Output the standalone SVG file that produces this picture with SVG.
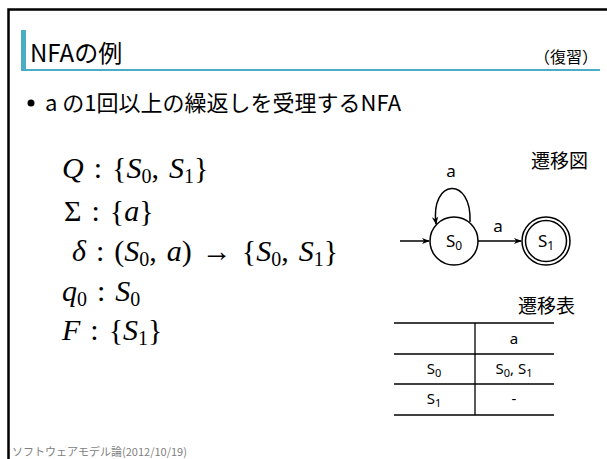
<svg xmlns="http://www.w3.org/2000/svg" width="607" height="459" viewBox="0 0 607 459">
<style>
.jp{font-family:"Noto Sans CJK JP","Noto Sans",sans-serif;fill:#000}
.m{font-family:"Liberation Serif","DejaVu Serif",serif;font-size:30px;fill:#000;word-spacing:2.5px}
.i{font-style:italic}
.sub{font-size:20px}
.n{font-family:"Noto Sans","Noto Sans CJK JP",sans-serif;font-size:17px;fill:#000}
.ns{font-size:12px}
.t{font-family:"Noto Sans","Noto Sans CJK JP",sans-serif;font-size:15px;fill:#000}
.ts{font-size:11px}
.edge{fill:none;stroke:#000;stroke-width:1.5}
.node{fill:#fff;stroke:#000;stroke-width:1.5}
.grid{stroke:#000;stroke-width:1.3}
</style>
<defs>
<marker id="arr" viewBox="0 0 10 10" refX="9" refY="5" markerWidth="8" markerHeight="8" markerUnits="userSpaceOnUse" orient="auto">
<path d="M0,1 L10,5 L0,9 L3,5 z" fill="#000"/>
</marker>
</defs>
<rect width="607" height="459" fill="#fff"/>
<path d="M8.5 470 V9.5 H620" fill="none" stroke="#000" stroke-width="2.5"/>
<rect x="21" y="30" width="5" height="41" fill="#4BACC6"/>
<rect x="21" y="69" width="579" height="2" fill="#4BACC6"/>
<text class="jp" x="30" y="62" font-size="24">NFAの例</text>
<text class="jp" x="598" y="63" font-size="16" text-anchor="end">（復習）</text>
<circle cx="31" cy="103" r="3.5" fill="#000"/>
<text class="jp" x="45" y="111" font-size="22">a の1回以上の繰返しを受理するNFA</text>

<g id="math">
<text class="m" x="62" y="178"><tspan class="i">Q</tspan> : {<tspan class="i">S</tspan><tspan class="sub" dy="5">0</tspan><tspan dy="-5">, </tspan><tspan class="i">S</tspan><tspan class="sub" dy="5">1</tspan><tspan dy="-5">}</tspan></text>
<text class="m" x="64" y="221">Σ : {<tspan class="i">a</tspan>}</text>
<text class="m" x="72" y="261"><tspan class="i">δ</tspan> : (<tspan class="i">S</tspan><tspan class="sub" dy="5">0</tspan><tspan dy="-5">, </tspan><tspan class="i">a</tspan>) → {<tspan class="i">S</tspan><tspan class="sub" dy="5">0</tspan><tspan dy="-5">, </tspan><tspan class="i">S</tspan><tspan class="sub" dy="5">1</tspan><tspan dy="-5">}</tspan></text>
<text class="m" x="62" y="301"><tspan class="i">q</tspan><tspan class="sub" dy="5">0</tspan><tspan dy="-5"> : </tspan><tspan class="i">S</tspan><tspan class="sub" dy="5">0</tspan></text>
<text class="m" x="62" y="340"><tspan class="i">F</tspan> : {<tspan class="i">S</tspan><tspan class="sub" dy="5">1</tspan><tspan dy="-5">}</tspan></text>
</g>

<text class="jp" x="588" y="168" font-size="19" text-anchor="end">遷移図</text>

<g id="edges">
<path class="edge" d="M400 241 H429" marker-end="url(#arr)"/>
<path class="edge" d="M470 222 C472 176, 430 178, 436 224" marker-end="url(#arr)"/>
<path class="edge" d="M478 241 H521" marker-end="url(#arr)"/>
<text class="n" x="451" y="177" text-anchor="middle">a</text>
<text class="n" x="498" y="232" text-anchor="middle">a</text>
</g>

<g id="S0">
<circle class="node" cx="454" cy="241" r="24"/>
<text class="n" x="454" y="247" text-anchor="middle">S<tspan class="ns" dy="3">0</tspan></text>
</g>
<g id="S1">
<circle class="node" cx="546" cy="241" r="24"/>
<circle class="node" cx="546" cy="241" r="20.5"/>
<text class="n" x="546" y="247" text-anchor="middle">S<tspan class="ns" dy="3">1</tspan></text>
</g>

<text class="jp" x="575" y="313" font-size="19" text-anchor="end">遷移表</text>
<g id="table">
<line class="grid" x1="394" y1="323" x2="554" y2="323"/>
<line class="grid" x1="394" y1="354" x2="554" y2="354"/>
<line class="grid" x1="394" y1="384" x2="554" y2="384"/>
<line class="grid" x1="394" y1="415" x2="554" y2="415"/>
<line class="grid" x1="475" y1="323" x2="475" y2="415"/>
<text class="t" x="514" y="344" text-anchor="middle">a</text>
<text class="t" x="434" y="374" text-anchor="middle">S<tspan class="ts" dy="3">0</tspan></text>
<text class="t" x="514" y="374" text-anchor="middle">S<tspan class="ts" dy="3">0</tspan><tspan dy="-3">, S</tspan><tspan class="ts" dy="3">1</tspan></text>
<text class="t" x="434" y="404" text-anchor="middle">S<tspan class="ts" dy="3">1</tspan></text>
<text class="t" x="514" y="404" text-anchor="middle">-</text>
</g>

<text class="jp" x="12" y="456" font-size="11" style="fill:#7f7f7f">ソフトウェアモデル論(2012/10/19)</text>
</svg>
